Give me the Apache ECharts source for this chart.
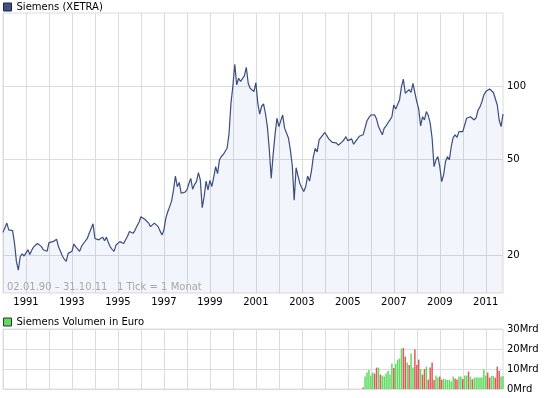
<!DOCTYPE html>
<html>
<head>
<meta charset="utf-8">
<script src="https://cdn.jsdelivr.net/npm/echarts@6/dist/echarts.min.js"></script>
<style>
  html, body { margin: 0; padding: 0; background: #fff; }
  #chart { width: 545px; height: 398px; }
</style>
</head>
<body>
<div id="chart"></div>
<script>
// monthly ticks, 02.01.90 - 31.10.11
var firstYear = 1990;
var monthCount = 262;
var months = [];
for (var m = 0; m < monthCount; m++) {
    var yy = firstYear + Math.floor(m / 12);
    var mm = (m % 12) + 1;
    months.push(yy + '-' + (mm < 10 ? '0' + mm : mm));
}

// Siemens (XETRA) closing price, one value per month
var price = [
    24.9, 26.0, 27.2, 25.5, 25.1, 25.3, 22.5, 18.9, 17.4, 19.8, 20.3, 19.9,
    20.5, 21.1, 20.2, 21.0, 21.7, 22.1, 22.4, 22.6, 21.8, 21.1, 20.9, 20.8,
    22.6, 22.7, 22.8, 23.0, 23.3, 21.7, 20.8, 19.9, 19.3, 18.9, 20.4, 20.6,
    20.8, 22.3, 21.7, 21.7, 20.8, 21.8, 22.4, 22.8, 23.5, 24.7, 24.7, 27.0,
    23.5, 23.5, 23.2, 23.5, 23.8, 23.0, 23.8, 22.6, 21.7, 21.2, 20.8, 22.1,
    22.1, 22.8, 22.6, 22.4, 23.2, 24.0, 25.1, 24.8, 24.7, 25.5, 26.5, 27.4,
    28.9, 28.4, 28.2, 28.5, 27.2, 26.3, 26.8, 27.2, 26.8, 26.3, 25.2, 24.3,
    25.5, 28.5, 30.3, 31.8, 33.5, 37.2, 42.5, 38.4, 40.0, 36.1, 35.7, 36.5,
    37.3, 39.5, 41.6, 37.5, 39.2, 40.3, 43.9, 41.0, 31.5, 35.0, 40.5, 37.3,
    40.8, 38.5, 42.0, 46.5, 43.5, 49.6, 51.2, 52.2, 52.4, 55.5, 63.8, 85.0,
    100.0, 123.0, 101.0, 107.6, 104.4, 104.4, 110.0, 119.4, 102.6, 97.8, 99.4, 94.8,
    103.2, 85.0, 76.6, 82.5, 84.3, 77.0, 68.0, 55.0, 41.6, 52.0, 63.0, 73.6,
    68.0, 68.5, 75.9, 67.0, 65.9, 61.0, 54.5, 47.0, 33.8, 46.0, 42.6, 39.5,
    38.0, 36.7, 38.4, 42.5, 40.5, 44.5, 51.1, 55.3, 53.5, 59.9, 61.0, 62.9,
    64.3, 62.5, 60.5, 59.5, 58.5, 58.0, 58.3, 57.0, 56.3, 58.8, 60.0, 61.8,
    59.5, 58.8, 60.5, 57.5, 59.0, 60.5, 62.0, 62.9, 62.9, 63.8, 71.9, 74.0,
    75.9, 76.6, 76.0, 73.0, 68.0, 67.6, 62.9, 67.0, 68.5, 70.5, 72.5, 74.7,
    83.5, 80.4, 80.4, 87.6, 99.4, 106.6, 93.3, 94.5, 96.6, 94.0, 102.6, 104.0,
    86.0, 80.4, 68.4, 74.7, 72.4, 78.4, 75.5, 70.3, 60.9, 46.5, 49.6, 51.1,
    46.5, 40.3, 43.0, 48.8, 51.1, 49.6, 56.3, 61.4, 62.9, 61.4, 64.8, 64.8,
    64.8, 64.0, 73.6, 74.0, 74.7, 74.0, 72.4, 74.0, 79.6, 82.0, 86.1, 91.8,
    94.8, 96.6, 97.2, 96.0, 94.0, 93.3, 83.5, 72.4, 68.0, 76.6
];

// Volumen in Mrd Euro, monthly from 2005-09
var volumeStart = '2005-09';
var volume = [
    0.8, 6.3, 8.2, 9.5,
    6.7, 8.2, 7.7, 10.7, 10.7, 7.2, 6.7, 6.2, 7.7, 9.0, 7.2, 12.8,
    10.5, 12.5, 14.7, 15.2, 20.2, 20.5, 16.2, 13.2, 12.0, 17.7, 10.7, 19.7,
    12.0, 14.7, 10.0, 7.2, 10.0, 11.2, 4.7, 10.7, 13.2, 4.5, 6.7, 5.7,
    6.2, 4.7, 5.0, 4.8, 4.5, 4.5, 3.8, 6.2, 5.3, 4.8, 6.2, 6.2,
    5.0, 6.7, 6.7, 8.7, 6.2, 4.8, 5.7, 5.7, 5.7, 5.7, 5.7, 9.7,
    6.7, 8.2, 5.7, 6.5, 6.5, 5.7, 11.2, 9.0, 6.3, 6.5
];
// 1 = Monat im Plus (gruen), 0 = im Minus (rot)
var volumeUp = [
    0, 1, 1, 1,
    1, 1, 0, 0, 1, 0, 1, 1, 1, 1, 1, 1,
    0, 1, 1, 1, 1, 0, 0, 1, 0, 1, 1, 0,
    0, 0, 1, 0, 0, 1, 0, 0, 0, 0, 1, 1,
    0, 0, 1, 1, 1, 1, 1, 1, 0, 0, 1, 1,
    0, 1, 1, 0, 1, 0, 1, 1, 1, 1, 1, 1,
    1, 0, 0, 1, 1, 0, 0, 0, 1, 1
];

var priceTicks = [20, 50, 100];
var volumeTicks = [0, 10, 20, 30];

var gridColor = '#dcdcdc';
var lineColor = '#3b4c7e';
var upColor = '#5fdc5f';
var downColor = '#dc5a5a';
var labelFont = 'DejaVu Sans, Verdana, sans-serif';

var startIdx = months.indexOf(volumeStart);
var volumeData = months.map(function (c, i) {
    var k = i - startIdx;
    if (k < 0 || k >= volume.length) return null;
    return {
        value: volume[k],
        itemStyle: { color: volumeUp[k] ? upColor : downColor }
    };
});

var chart = echarts.init(document.getElementById('chart'), null, { renderer: 'canvas' });

var option = {
    backgroundColor: '#fff',
    animation: false,
    textStyle: { fontFamily: labelFont },
    legend: [{
        left: 3, top: 2, padding: 0,
        itemWidth: 8, itemHeight: 8,
        selectedMode: false,
        textStyle: { fontSize: 10, color: '#000', fontFamily: labelFont },
        data: [{
            name: 'Siemens (XETRA)', icon: 'rect',
            itemStyle: { color: '#3f5285', borderColor: '#1c2440', borderWidth: 1 }
        }]
    }, {
        left: 3, top: 317, padding: 0,
        itemWidth: 8, itemHeight: 8,
        selectedMode: false,
        textStyle: { fontSize: 10, color: '#000', fontFamily: labelFont },
        data: [{
            name: 'Siemens Volumen in Euro', icon: 'rect',
            itemStyle: { color: upColor, borderColor: '#333', borderWidth: 1 }
        }]
    }],
    graphic: [{
        type: 'text',
        left: 7, top: 282,
        z: 10,
        style: {
            text: '02.01.90 \u2013 31.10.11   1 Tick = 1 Monat',
            fill: '#a8a8a8',
            font: '10px ' + labelFont
        }
    }],
    grid: [
        { left: 3, right: 42, top: 13, height: 280, show: true, borderColor: gridColor, borderWidth: 1 },
        { left: 3, right: 42, top: 329, height: 60, show: true, borderColor: gridColor, borderWidth: 1 }
    ],
    xAxis: [{
        type: 'category',
        gridIndex: 0,
        data: months,
        boundaryGap: false,
        axisLine: { show: false },
        axisTick: { show: false },
        axisLabel: {
            interval: function (i) { return i % 24 === 12; },
            formatter: function (v) { return v.slice(0, 4); },
            margin: 4,
            fontSize: 10,
            color: '#000',
            fontFamily: labelFont
        },
        splitLine: {
            show: true,
            interval: function (i) { return i % 12 === 0; },
            lineStyle: { color: gridColor, width: 1 }
        }
    }, {
        type: 'category',
        gridIndex: 1,
        data: months,
        boundaryGap: false,
        axisLine: { show: false },
        axisTick: { show: false },
        axisLabel: { show: false },
        splitLine: {
            show: true,
            interval: function (i) { return i % 12 === 0; },
            lineStyle: { color: gridColor, width: 1 }
        }
    }],
    yAxis: [{
        type: 'log',
        gridIndex: 0,
        position: 'right',
        logBase: 10,
        min: 14,
        max: 200,
        axisLine: { show: false },
        axisTick: { show: false, customValues: priceTicks },
        axisLabel: {
            customValues: priceTicks,
            margin: 4,
            fontSize: 10,
            color: '#000',
            fontFamily: labelFont
        },
        splitLine: { show: true, lineStyle: { color: gridColor, width: 1 } }
    }, {
        type: 'value',
        gridIndex: 1,
        position: 'right',
        min: volumeTicks[0],
        max: volumeTicks[volumeTicks.length - 1],
        interval: 10,
        axisLine: { show: false },
        axisTick: { show: false },
        axisLabel: {
            margin: 4,
            fontSize: 10,
            color: '#000',
            fontFamily: labelFont,
            formatter: function (v) { return v + 'Mrd'; }
        },
        splitLine: { show: true, lineStyle: { color: gridColor, width: 1 } }
    }],
    series: [{
        name: 'Siemens (XETRA)',
        type: 'line',
        xAxisIndex: 0,
        yAxisIndex: 0,
        data: price,
        showSymbol: false,
        symbol: 'none',
        lineStyle: { color: lineColor, width: 1.2 },
        itemStyle: { color: lineColor },
        areaStyle: { color: 'rgba(70, 100, 200, 0.09)', origin: 'start' }
    }, {
        name: 'Siemens Volumen in Euro',
        type: 'bar',
        xAxisIndex: 1,
        yAxisIndex: 1,
        data: volumeData,
        barWidth: 1.5,
        itemStyle: { color: upColor }
    }]
};

chart.setOption(option);
</script>
</body>
</html>
